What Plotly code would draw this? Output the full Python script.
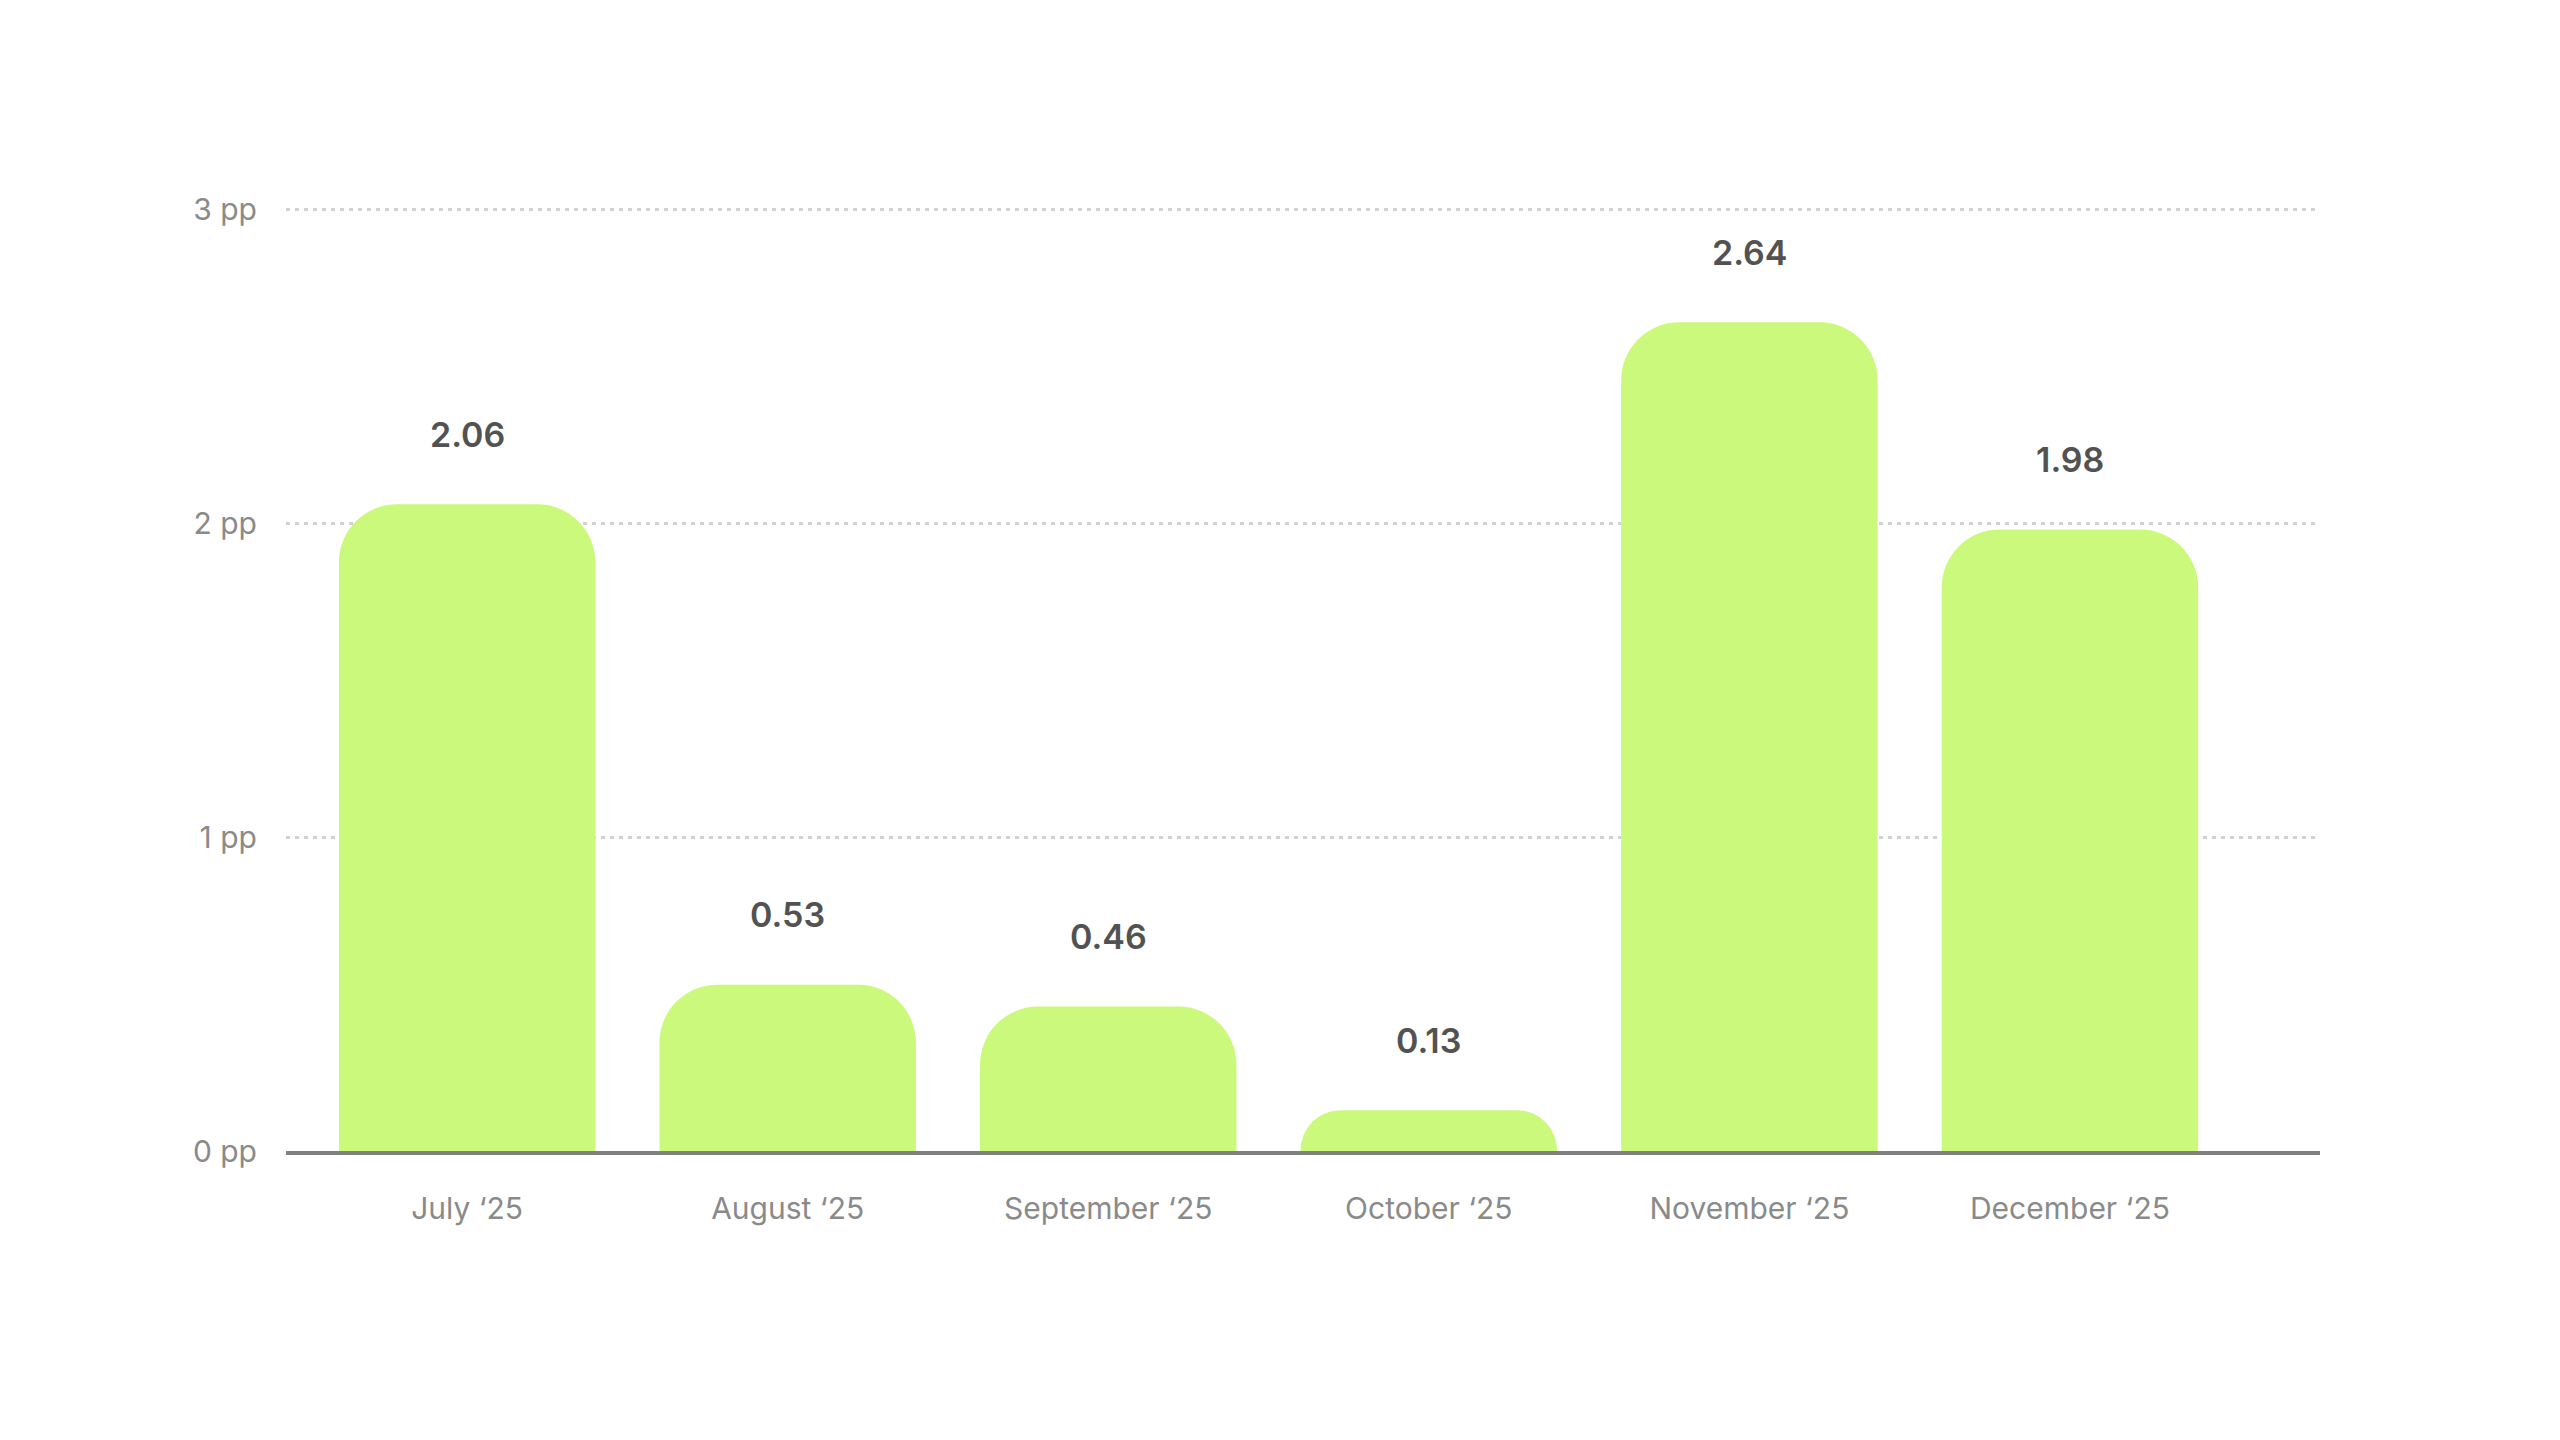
import plotly.graph_objects as go

# Chart data.
months = ["July ‘25", "August ‘25", "September ‘25", "October ‘25", "November ‘25", "December ‘25"]
values = [2.06, 0.53, 0.46, 0.13, 2.64, 1.98]
y_ticks = [0, 1, 2, 3]
y_tick_labels = ["0 pp", "1 pp", "2 pp", "3 pp"]

font_family = "Inter, 'Noto Sans', sans-serif"

fig = go.Figure()
fig.add_trace(go.Bar(
    x=months,
    y=values,
    marker_color="#CBF97C",
    marker_line_width=0,
    marker_cornerradius=58,
    hoverinfo="x+y",
))

# Value labels above each bar.
for month, value in zip(months, values):
    fig.add_annotation(
        x=month, y=value, text=f"{value:.2f}", showarrow=False,
        yanchor="middle", yshift=70,
        font=dict(family=font_family, size=34, color="#525252", weight=600),
    )

fig.update_layout(
    width=2560,
    height=1440,
    paper_bgcolor="white",
    plot_bgcolor="white",
    margin=dict(l=278, r=248, t=195, b=297),
    bargap=0.2,
    showlegend=False,
    font=dict(family=font_family),
)

fig.update_xaxes(
    range=[-0.565, 5.78],
    showline=True,
    linecolor="#808080",
    linewidth=4,
    showgrid=False,
    ticks="",
    ticklabelstandoff=28,
    tickfont=dict(family=font_family, size=30, color="#8a8a8a"),
)

fig.update_yaxes(
    range=[0, 3.02],
    tickvals=y_ticks,
    ticktext=y_tick_labels,
    showgrid=True,
    gridcolor="#d2d2d2",
    gridwidth=3,
    griddash="4px,5px",
    zeroline=False,
    showline=False,
    ticks="",
    ticklabelstandoff=28,
    tickfont=dict(family=font_family, size=30, color="#8a8a8a"),
)

fig.write_html("out.html")
